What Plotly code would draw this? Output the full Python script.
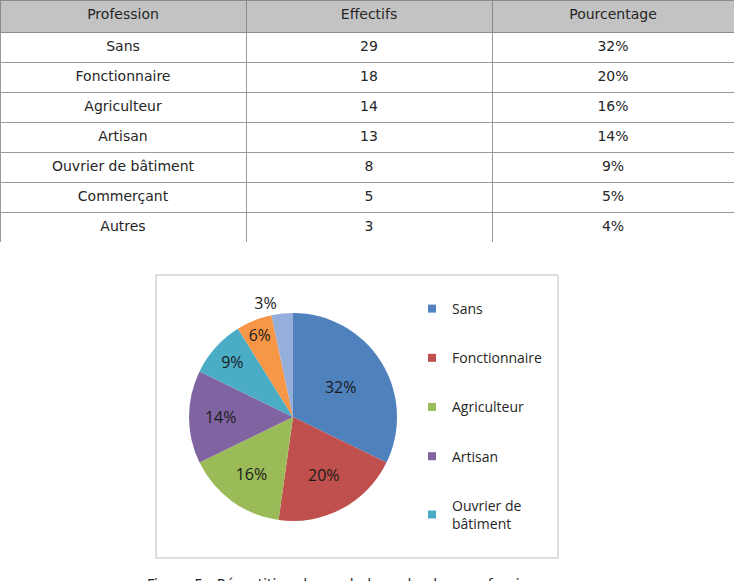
import plotly.graph_objects as go

W, H = 734, 581

professions = ["Sans", "Fonctionnaire", "Agriculteur", "Artisan",
               "Ouvrier de bâtiment", "Commerçant", "Autres"]
effectifs = [29, 18, 14, 13, 8, 5, 3]
pourcentages = ["32%", "20%", "16%", "14%", "9%", "5%", "4%"]
header = ["Profession", "Effectifs", "Pourcentage"]
legend_names = ["Sans", "Fonctionnaire", "Agriculteur", "Artisan", "Ouvrier de<br>bâtiment"]
colors = ["#4F81BD", "#C0504D", "#9BBB59", "#8064A2", "#4BACC6", "#F79646", "#95AEDA"]
caption = "Figure 5 : Répartition des malades selon leur profession"

def px(x):
    return x / W

def py(y):
    return 1 - y / H

fig = go.Figure()

fig.add_trace(go.Table(
    domain=dict(x=[0, 1], y=[py(242), 1]),
    columnwidth=[246, 246, 242],
    header=dict(values=header, fill_color="#c3c3c3", height=32,
                line=dict(color="#8c8c8c", width=1),
                font=dict(family="DejaVu Sans", size=14, color="#262626"),
                align="center"),
    cells=dict(values=[professions, [str(v) for v in effectifs], pourcentages],
               fill_color="white", height=30,
               line=dict(color="#9a9a9a", width=1),
               font=dict(family="DejaVu Sans", size=14, color="#262626"),
               align="center"),
))

R = 104
fig.add_trace(go.Pie(
    labels=professions, values=effectifs, sort=False, direction="clockwise",
    rotation=0, marker=dict(colors=colors, line=dict(width=0)),
    texttemplate="%{percent:.0%}",
    textposition=["inside"] * 6 + ["outside"],
    insidetextorientation="horizontal",
    textfont=dict(family="Open Sans", size=16, color="#1a1a1a"),
    showlegend=False, hoverinfo="label+value+percent",
    domain=dict(x=[px(293 - R), px(293 + R)], y=[py(417 + R), py(417 - R)]),
))

for name, c in zip(legend_names, colors):
    fig.add_trace(go.Scatter(x=[None], y=[None], mode="markers", name=name,
                             legendgroup=name,
                             marker=dict(symbol="square", size=8, color=c)))

fig.add_shape(type="rect", xref="paper", yref="paper",
              x0=px(156), x1=px(558), y0=py(558), y1=py(275),
              line=dict(color="#bdbdbd", width=1), fillcolor="rgba(0,0,0,0)")

fig.add_annotation(text=caption, xref="paper", yref="paper", x=px(145), y=py(574),
                   xanchor="left", yanchor="top", showarrow=False,
                   font=dict(family="DejaVu Sans", size=14, color="#262626"))

fig.update_layout(
    width=W, height=H, margin=dict(l=0, r=0, t=0, b=0),
    paper_bgcolor="white", plot_bgcolor="white",
    xaxis=dict(visible=False), yaxis=dict(visible=False),
    legend=dict(x=px(412), y=py(293), xanchor="left", yanchor="top",
                tracegroupgap=28, bgcolor="rgba(0,0,0,0)",
                font=dict(family="Open Sans", size=14, color="#262626")),
)

fig.write_html("out.html")
